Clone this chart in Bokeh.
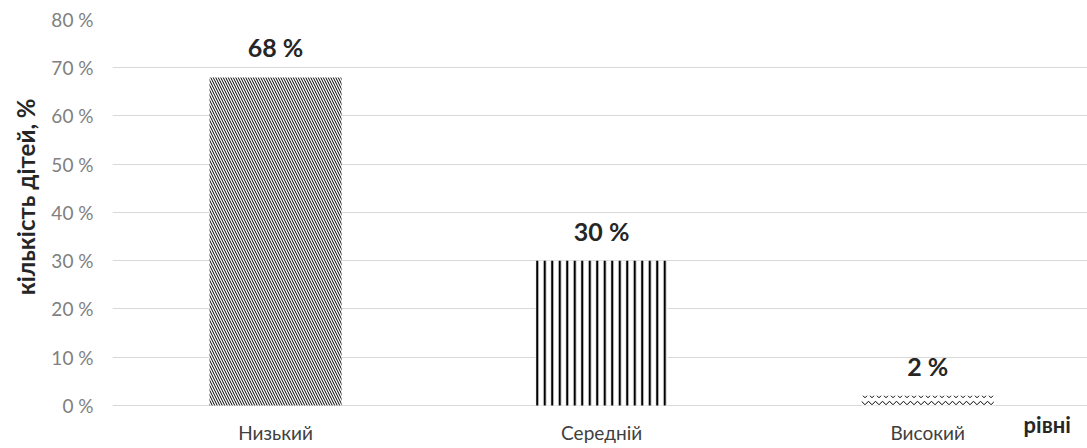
from bokeh.plotting import figure
from bokeh.models import Range1d, FixedTicker, ColumnDataSource, Title
from bokeh.core.properties import value
from bokeh.embed import file_html
from bokeh.resources import INLINE

# Distribution of children by level, percent
levels = ["Низький", "Середній", "Високий"]
shares = [68, 30, 2]
y_ticks = [0, 10, 20, 30, 40, 50, 60, 70, 80]
patterns = ["left_diagonal_line", "vertical_line", "horizontal_wave"]
pattern_scales = [5, 7.5, 7]
pattern_weights = [1.0, 2.2, 1.0]

FONT = "Lato"

xs = list(range(len(levels)))
src = ColumnDataSource(dict(
    x=xs, top=shares, pat=patterns, sc=pattern_scales, wt=pattern_weights,
    lbl=[f"{v} %" for v in shares],
))

# The frame runs down to the bottom edge so that the category names and the
# "рівні" caption can be drawn as text below the zero line.
p = figure(width=1087, height=448, output_backend="svg", toolbar_location=None,
           x_range=Range1d(-0.5, 2.49), y_range=Range1d(-8.94, 80),
           min_border_left=112, min_border_right=0, min_border_top=19,
           min_border_bottom=0)
p.outline_line_color = None
p.background_fill_color = "white"
p.border_fill_color = "white"

p.vbar(x="x", top="top", width=0.405, bottom=0, source=src,
       fill_color="white", line_color=None,
       hatch_pattern="pat", hatch_color="black",
       hatch_scale="sc", hatch_weight="wt")

p.text(x="x", y="top", text="lbl", source=src, y_offset=-15,
       text_align="center", text_baseline="bottom",
       text_font=value(FONT), text_font_style="bold", text_font_size="25px",
       text_color="#262626")

# category names under the bars
p.text(x=xs, y=[0] * len(xs), text=levels, y_offset=16,
       text_align="center", text_baseline="top",
       text_font=value(FONT), text_font_size="19px", text_color="#404040")

# axis caption at the lower right
p.text(x=[2.294], y=[0], text=["рівні"], y_offset=6,
       text_align="left", text_baseline="top",
       text_font=value(FONT), text_font_style="bold", text_font_size="22px",
       text_color="#262626")

# y axis
yax = p.yaxis[0]
yax.ticker = FixedTicker(ticks=y_ticks)
yax.major_label_overrides = {t: f"{t} %" for t in y_ticks}
yax.axis_line_color = None
yax.major_tick_line_color = None
yax.minor_tick_line_color = None
yax.major_label_text_font = FONT
yax.major_label_text_font_size = "19px"
yax.major_label_text_color = "#7f7f7f"
yax.major_label_standoff = 13

p.add_layout(Title(text="кількість дітей, %", align="right", offset=79,
                   standoff=17, text_line_height=1.0, text_font=FONT,
                   text_font_style="bold", text_font_size="24px",
                   text_color="#262626"), "left")

p.xaxis.visible = False
p.xgrid.grid_line_color = None
p.ygrid.grid_line_color = "#d9d9d9"
p.ygrid.grid_line_width = 1.2
p.ygrid.ticker = FixedTicker(ticks=y_ticks)

open("out.html", "w").write(file_html(p, INLINE))
